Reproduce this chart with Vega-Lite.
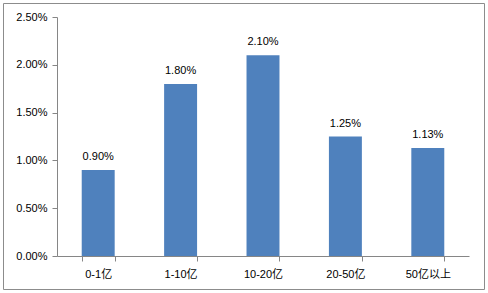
{
  "$schema": "https://vega.github.io/schema/vega-lite/v6.json",
  "width": 481,
  "height": 286,
  "autosize": {"type": "none"},
  "padding": {"left": 3, "top": 3, "right": 4, "bottom": 4},
  "background": "white",
  "config": {
    "view": {"stroke": "#8c8c8c", "strokeWidth": 1},
    "font": "Liberation Sans, Noto Sans CJK SC",
    "axis": {
      "labelFont": "Liberation Sans, Noto Sans CJK SC",
      "labelFontSize": 11,
      "labelColor": "#000000",
      "domainColor": "#868686",
      "tickColor": "#868686",
      "grid": false,
      "title": null
    }
  },
  "data": {
    "values": [
      {"category": "0-1亿", "rate": 0.009},
      {"category": "1-10亿", "rate": 0.018},
      {"category": "10-20亿", "rate": 0.021},
      {"category": "20-50亿", "rate": 0.0125},
      {"category": "50亿以上", "rate": 0.0113}
    ]
  },
  "encoding": {
    "x": {
      "field": "category",
      "type": "nominal",
      "sort": null,
      "scale": {"range": [54, 466], "paddingInner": 0.6, "paddingOuter": 0.3},
      "axis": {"labelAngle": 0, "offset": -33, "tickBand": "extent", "tickSize": 5, "labelPadding": 7}
    },
    "y": {
      "field": "rate",
      "type": "quantitative",
      "scale": {"domain": [0, 0.025], "range": [253, 14], "nice": false},
      "axis": {"format": ".2%", "values": [0, 0.005, 0.01, 0.015, 0.02, 0.025], "offset": -54, "tickSize": 5, "labelPadding": 5}
    }
  },
  "layer": [
    {"mark": {"type": "bar", "color": "#4F81BD"}},
    {
      "mark": {"type": "text", "baseline": "bottom", "dy": -8, "fontSize": 11, "color": "#000000"},
      "encoding": {"text": {"field": "rate", "type": "quantitative", "format": ".2%"}}
    }
  ]
}
